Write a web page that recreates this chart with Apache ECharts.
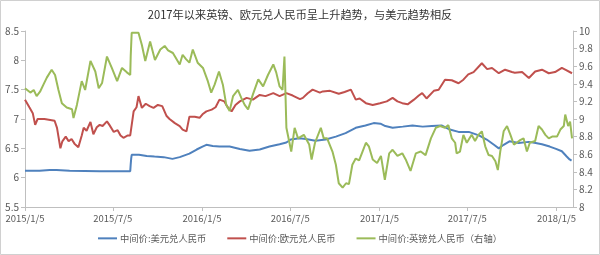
<!DOCTYPE html>
<html><head><meta charset="utf-8">
<script src="https://cdn.jsdelivr.net/npm/echarts@6/dist/echarts.min.js"></script>
<style>html,body{margin:0;padding:0;background:#fff}#c{width:600px;height:255px}</style>
</head><body><div id="c"></div>
<script>
const chartTitle = '2017年以来英镑、欧元兑人民币呈上升趋势，与美元趋势相反';
const seriesNames = ['中间价:美元兑人民币', '中间价:欧元兑人民币', '中间价:英镑兑人民币（右轴）'];
const xTickDates = ['2015-01-05','2015-07-05','2016-01-05','2016-07-05','2017-01-05','2017-07-05','2018-01-05'];
const xTickLabels = ['2015/1/5','2015/7/5','2016/1/5','2016/7/5','2017/1/5','2017/7/5','2018/1/5'];
const xStart = '2015-01-05';
const xEnd = '2018-02-08';

const usdData = [
['2015-01-05',6.12],['2015-02-04',6.12],['2015-02-25',6.13],['2015-03-11',6.13],['2015-04-07',6.12],['2015-05-08',6.115],['2015-06-08',6.11],['2015-07-09',6.11],['2015-08-10',6.11],['2015-08-11',6.23],['2015-08-12',6.33],['2015-08-13',6.39],['2015-08-28',6.39],['2015-09-13',6.37],['2015-09-29',6.36],['2015-10-18',6.35],['2015-11-05',6.32],['2015-11-20',6.35],['2015-12-10',6.41],['2015-12-25',6.48],
['2016-01-06',6.53],['2016-01-14',6.56],['2016-01-27',6.54],['2016-02-10',6.53],['2016-03-02',6.53],['2016-03-23',6.49],['2016-04-12',6.46],['2016-05-03',6.48],['2016-05-23',6.53],['2016-06-13',6.57],['2016-06-27',6.60],['2016-07-06',6.65],['2016-07-24',6.67],['2016-08-06',6.66],['2016-08-26',6.63],['2016-09-16',6.65],['2016-10-07',6.70],['2016-10-27',6.76],['2016-11-17',6.85],['2016-12-07',6.89],['2016-12-24',6.93],
['2017-01-07',6.92],['2017-01-17',6.88],['2017-02-01',6.85],['2017-02-22',6.87],['2017-03-14',6.89],['2017-04-04',6.87],['2017-04-23',6.88],['2017-05-13',6.89],['2017-05-30',6.82],['2017-06-17',6.78],['2017-07-08',6.78],['2017-07-29',6.72],['2017-08-14',6.65],['2017-08-29',6.56],['2017-09-08',6.50],['2017-09-18',6.56],['2017-09-30',6.62],['2017-10-19',6.59],['2017-11-09',6.61],['2017-11-23',6.59],['2017-12-06',6.57],['2017-12-22',6.53],
['2018-01-04',6.49],['2018-01-16',6.45],['2018-01-26',6.36],['2018-02-01',6.31],['2018-02-05',6.29]
];

const eurData = [
['2015-01-05',7.33],['2015-01-14',7.20],['2015-01-21',7.10],['2015-01-26',6.90],['2015-01-31',7.00],['2015-02-14',7.00],['2015-03-01',6.98],['2015-03-07',6.97],['2015-03-12',6.85],['2015-03-15',6.70],['2015-03-19',6.50],['2015-03-23',6.62],['2015-03-30',6.70],['2015-04-05',6.62],['2015-04-11',6.66],['2015-04-17',6.58],['2015-04-25',6.52],['2015-05-02',6.72],['2015-05-06',6.85],['2015-05-12',6.80],['2015-05-20',6.95],['2015-05-26',6.74],['2015-06-02',6.86],['2015-06-08',6.90],['2015-06-14',6.88],['2015-06-23',6.96],['2015-06-28',6.90],['2015-07-07',6.78],['2015-07-15',6.81],['2015-07-21',6.72],['2015-07-27',6.68],['2015-08-05',6.72],['2015-08-10',6.72],['2015-08-17',7.13],['2015-08-23',7.20],['2015-08-27',7.39],['2015-09-03',7.19],['2015-09-11',7.26],['2015-09-19',7.22],['2015-09-27',7.19],['2015-10-06',7.24],['2015-10-15',7.22],['2015-10-24',7.05],['2015-10-30',7.00],['2015-11-10',6.93],['2015-11-20',6.88],['2015-11-26',6.82],['2015-12-04',6.79],['2015-12-10',7.04],['2015-12-21',7.04],['2015-12-31',7.02],
['2016-01-06',7.08],['2016-01-14',7.13],['2016-01-25',7.16],['2016-02-02',7.20],['2016-02-10',7.33],['2016-02-20',7.30],['2016-02-27',7.20],['2016-03-06',7.13],['2016-03-14',7.24],['2016-03-23',7.30],['2016-04-06',7.36],['2016-04-19',7.33],['2016-05-03',7.41],['2016-05-15',7.39],['2016-05-31',7.44],['2016-06-13',7.39],['2016-06-27',7.44],['2016-07-10',7.40],['2016-07-25',7.34],['2016-07-31',7.36],['2016-08-10',7.44],['2016-08-20',7.50],['2016-09-04',7.45],['2016-09-10',7.47],['2016-09-25',7.48],['2016-10-13',7.43],['2016-10-25',7.46],['2016-11-07',7.50],['2016-11-17',7.33],['2016-11-25',7.35],['2016-12-08',7.27],['2016-12-22',7.24],
['2017-01-06',7.27],['2017-01-20',7.30],['2017-02-01',7.36],['2017-02-11',7.30],['2017-02-21',7.27],['2017-03-04',7.25],['2017-03-17',7.33],['2017-03-27',7.40],['2017-04-03',7.44],['2017-04-12',7.35],['2017-04-27',7.48],['2017-05-07',7.50],['2017-05-20',7.67],['2017-06-03',7.66],['2017-06-17',7.61],['2017-06-27',7.67],['2017-07-07',7.76],['2017-07-18',7.80],['2017-08-04',7.95],['2017-08-15',7.85],['2017-08-25',7.87],['2017-09-08',7.78],['2017-09-21',7.84],['2017-10-05',7.80],['2017-10-11',7.79],['2017-10-26',7.80],['2017-11-09',7.70],['2017-11-22',7.81],['2017-12-06',7.84],['2017-12-20',7.78],
['2018-01-02',7.80],['2018-01-16',7.87],['2018-01-23',7.84],['2018-02-06',7.78]
];

const gbpData = [
['2015-01-05',9.35],['2015-01-16',9.30],['2015-01-23',9.33],['2015-01-29',9.26],['2015-02-05',9.31],['2015-02-12',9.39],['2015-02-19',9.47],['2015-03-01',9.56],['2015-03-08',9.50],['2015-03-15',9.33],['2015-03-22',9.18],['2015-04-01',9.13],['2015-04-12',9.11],['2015-04-15',9.01],['2015-04-22',9.16],['2015-05-02',9.43],['2015-05-09',9.33],['2015-05-20',9.66],['2015-05-30',9.54],['2015-06-06',9.35],['2015-06-13',9.41],['2015-06-23',9.71],['2015-07-03',9.58],['2015-07-14',9.43],['2015-07-24',9.58],['2015-08-03',9.53],['2015-08-10',9.50],['2015-08-11',9.72],['2015-08-13',9.98],['2015-08-27',9.98],['2015-09-03',9.84],['2015-09-10',9.66],['2015-09-20',9.88],['2015-09-30',9.67],['2015-10-11',9.79],['2015-10-20',9.83],['2015-10-27',9.78],['2015-11-06',9.75],['2015-11-20',9.62],['2015-11-26',9.73],['2015-12-03',9.68],['2015-12-10',9.64],['2015-12-17',9.79],['2015-12-27',9.64],
['2016-01-07',9.58],['2016-01-17',9.43],['2016-01-24',9.30],['2016-01-31',9.39],['2016-02-09',9.54],['2016-02-17',9.39],['2016-02-24',9.16],['2016-03-02',9.09],['2016-03-09',9.26],['2016-03-19',9.33],['2016-03-26',9.24],['2016-04-02',9.16],['2016-04-09',9.11],['2016-04-19',9.28],['2016-04-30',9.45],['2016-05-10',9.37],['2016-05-20',9.50],['2016-05-31',9.62],['2016-06-06',9.53],['2016-06-13',9.37],['2016-06-19',9.33],['2016-06-23',9.71],['2016-06-27',8.90],['2016-07-07',8.63],['2016-07-14',8.90],['2016-07-21',8.78],['2016-08-02',8.82],['2016-08-13',8.71],['2016-08-18',8.54],['2016-08-25',8.73],['2016-09-06',8.90],['2016-09-12',8.78],['2016-09-19',8.78],['2016-09-30',8.63],['2016-10-07',8.48],['2016-10-13',8.27],['2016-10-21',8.22],['2016-10-28',8.27],['2016-11-03',8.26],['2016-11-10',8.48],['2016-11-17',8.55],['2016-11-24',8.53],['2016-12-01',8.63],['2016-12-08',8.73],['2016-12-14',8.69],['2016-12-22',8.54],['2016-12-31',8.50],
['2017-01-08',8.58],['2017-01-16',8.31],['2017-01-25',8.61],['2017-02-01',8.65],['2017-02-11',8.58],['2017-02-21',8.61],['2017-02-28',8.54],['2017-03-10',8.41],['2017-03-21',8.61],['2017-03-31',8.63],['2017-04-10',8.59],['2017-04-21',8.78],['2017-05-01',8.90],['2017-05-10',8.92],['2017-05-20',8.90],['2017-05-27',8.93],['2017-06-03',8.78],['2017-06-10',8.73],['2017-06-13',8.61],['2017-06-20',8.63],['2017-06-27',8.82],['2017-07-04',8.73],['2017-07-14',8.82],['2017-07-21',8.75],['2017-07-28',8.82],['2017-08-04',8.86],['2017-08-11',8.69],['2017-08-18',8.59],['2017-08-25',8.58],['2017-09-01',8.52],['2017-09-06',8.42],['2017-09-11',8.63],['2017-09-18',8.86],['2017-09-25',8.92],['2017-10-02',8.82],['2017-10-09',8.71],['2017-10-15',8.73],['2017-10-22',8.76],['2017-10-29',8.78],['2017-11-05',8.63],['2017-11-11',8.73],['2017-11-22',8.75],['2017-11-29',8.92],['2017-12-06',8.88],['2017-12-13',8.82],['2017-12-20',8.78],['2017-12-27',8.80],
['2018-01-06',8.80],['2018-01-13',8.88],['2018-01-20',8.92],['2018-01-23',9.05],['2018-01-29',8.92],['2018-02-02',8.97],['2018-02-06',8.78]
];

const t0 = Date.UTC(2015, 0, 5);
function toDay(s) {
  const p = s.split('-').map(Number);
  return (Date.UTC(p[0], p[1] - 1, p[2]) - t0) / 864e5;
}
const conv = arr => arr.map(d => [toDay(d[0]), d[1]]);
const tickDays = xTickDates.map(toDay);

const axisColor = '#bfbfbf';
const labelColor = '#595959';
const font = '"Noto Sans CJK SC", "Noto Sans", sans-serif';

const chart = echarts.init(document.getElementById('c'), null, {renderer: 'canvas'});
chart.setOption({
  animation: false,
  backgroundColor: '#fff',
  textStyle: {fontFamily: font},
  graphic: [{
    type: 'rect', shape: {x: 0.5, y: 0.5, width: 599, height: 254},
    style: {fill: 'none', stroke: '#d0d0d0', lineWidth: 1}, silent: true, z: -1
  }],
  title: {
    text: chartTitle, left: 'center', top: 4,
    textStyle: {fontSize: 11.2, fontWeight: 'normal', color: '#333', fontFamily: font}
  },
  legend: {
    bottom: 7, left: 'center', icon: 'rect', itemWidth: 19, itemHeight: 2, itemGap: 21,
    textStyle: {fontSize: 9.3, color: labelColor, fontFamily: font, padding: [0, 0, 0, -2]},
    data: seriesNames
  },
  grid: {left: 25, right: 27, top: 31, bottom: 48, containLabel: false},
  xAxis: {
    type: 'value', min: 0, max: toDay(xEnd) - toDay(xStart),
    axisLine: {show: true, lineStyle: {color: axisColor}},
    axisTick: {show: true, length: 4, lineStyle: {color: axisColor}, customValues: tickDays},
    axisLabel: {
      customValues: tickDays, fontSize: 9.5, color: labelColor, margin: 7,
      formatter: v => { const i = tickDays.indexOf(Math.round(v)); return i >= 0 ? xTickLabels[i] : ''; }
    },
    splitLine: {show: false}
  },
  yAxis: [{
    type: 'value', position: 'left', min: 5.5, max: 8.5, interval: 0.5,
    axisLine: {show: true, lineStyle: {color: axisColor}},
    axisTick: {show: true, length: 4, lineStyle: {color: axisColor}},
    axisLabel: {fontSize: 10, color: labelColor, margin: 6},
    splitLine: {show: false}
  }, {
    type: 'value', position: 'right', min: 8, max: 10, interval: 0.2,
    axisLine: {show: true, lineStyle: {color: axisColor}},
    axisTick: {show: true, length: 4, lineStyle: {color: axisColor}},
    axisLabel: {fontSize: 10, color: labelColor, margin: 6},
    splitLine: {show: false}
  }],
  series: [{
    name: seriesNames[0], type: 'line', yAxisIndex: 0, data: conv(usdData),
    showSymbol: false, color: '#4F81BD', lineStyle: {width: 2, color: '#4F81BD'}
  }, {
    name: seriesNames[1], type: 'line', yAxisIndex: 0, data: conv(eurData),
    showSymbol: false, color: '#C0504D', lineStyle: {width: 2, color: '#C0504D'}
  }, {
    name: seriesNames[2], type: 'line', yAxisIndex: 1, data: conv(gbpData),
    showSymbol: false, color: '#9BBB59', lineStyle: {width: 2, color: '#9BBB59'}
  }]
});
</script>
</body></html>
